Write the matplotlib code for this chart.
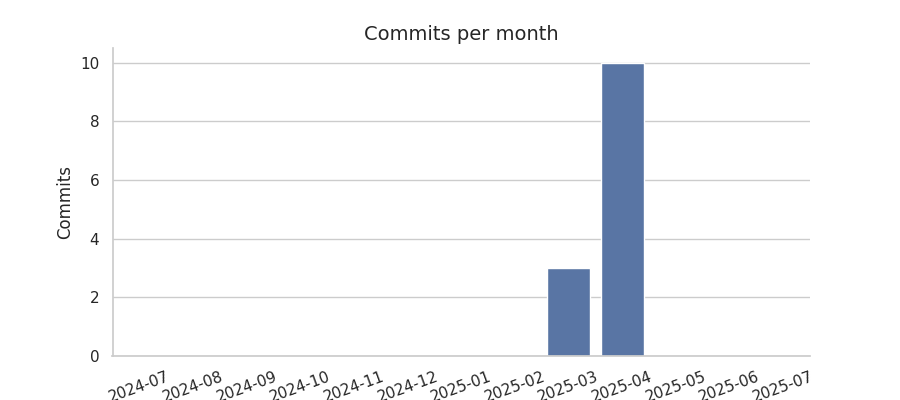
import matplotlib
matplotlib.use("Agg")
import matplotlib.pyplot as plt
import seaborn as sns

months = ["2024-07", "2024-08", "2024-09", "2024-10", "2024-11", "2024-12",
          "2025-01", "2025-02", "2025-03", "2025-04", "2025-05", "2025-06", "2025-07"]
commits = [0, 0, 0, 0, 0, 0, 0, 0, 3, 10, 0, 0, 0]

sns.set_theme(style="whitegrid")

fig, ax = plt.subplots(figsize=(9, 4), dpi=100)
sns.barplot(x=months, y=commits, color="#4c72b0", ax=ax)
ax.set_title("Commits per month", fontsize=14)
ax.set_ylabel("Commits")
ax.set_xlabel("")
plt.setp(ax.get_xticklabels(), rotation=20)
sns.despine()
fig.subplots_adjust(left=0.125, right=0.9, top=0.88, bottom=0.11)
fig.savefig("out.png")
